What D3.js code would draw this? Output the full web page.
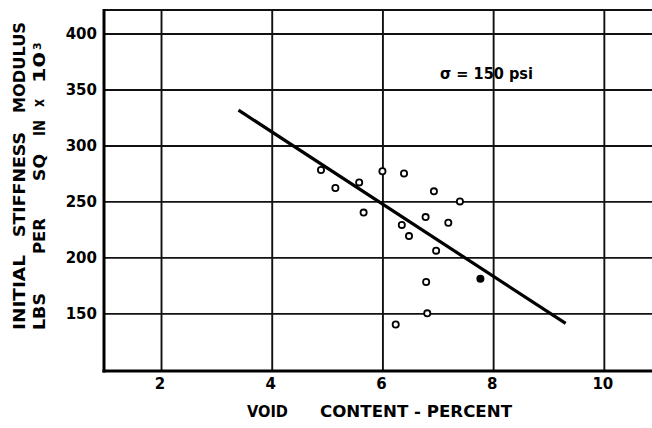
<!DOCTYPE html>
<html>
<head>
<meta charset="utf-8">
<script src="https://cdn.jsdelivr.net/npm/d3@7"></script>
<style>
  body { margin: 0; background: white; }
  text { font-family: "DejaVu Sans", sans-serif; font-weight: bold; fill: black; }
</style>
</head>
<body>
<div id="chart"></div>
<script>
// data
var openX = [4.89, 5.15, 5.58, 5.66, 6.00, 6.39, 6.93, 7.40, 6.78, 6.35, 6.48, 7.19, 6.97, 6.79, 6.81, 6.24];
var openY = [278, 262, 267, 240, 277, 275, 259, 250, 236, 229, 219, 231, 206, 178, 150, 140];
var solidX = [7.77];
var solidY = [181];
var fitX = [3.40, 9.31];
var fitY = [331.5, 141];
var xTicks = [2, 4, 6, 8, 10];
var yTicks = [150, 200, 250, 300, 350, 400];

var width = 652, height = 428;

var svg = d3.select("#chart").append("svg")
    .attr("width", width)
    .attr("height", height);

//
// Scales
//
var x = d3.scaleLinear().domain([0.97, 10.87]).range([104, 652]);
var y = d3.scaleLinear().domain([98.5, 421]).range([371, 10]);

// gridlines
svg.append("g")
    .attr("transform", "translate(0," + y.range()[0] + ")")
    .call(d3.axisBottom(x).tickValues(xTicks).tickSize(-(y.range()[0] - y.range()[1])).tickFormat(""))
    .call(function(g) { g.select(".domain").remove(); })
    .selectAll("line").attr("stroke", "#111").attr("stroke-width", 1.9);

svg.append("g")
    .attr("transform", "translate(" + x.range()[0] + ",0)")
    .call(d3.axisLeft(y).tickValues(yTicks).tickSize(-(x.range()[1] - x.range()[0])).tickFormat(""))
    .call(function(g) { g.select(".domain").remove(); })
    .selectAll("line").attr("stroke", "#111").attr("stroke-width", 1.9);

// frame: top, left, bottom
svg.append("line")
    .attr("x1", x.range()[0]).attr("x2", x.range()[1])
    .attr("y1", y.range()[1]).attr("y2", y.range()[1])
    .attr("stroke", "#111").attr("stroke-width", 2);
svg.append("line")
    .attr("x1", x.range()[0]).attr("x2", x.range()[0])
    .attr("y1", y.range()[1] - 1).attr("y2", y.range()[0] + 1.5)
    .attr("stroke", "#000").attr("stroke-width", 3);
svg.append("line")
    .attr("x1", x.range()[0] - 1.5).attr("x2", x.range()[1])
    .attr("y1", y.range()[0]).attr("y2", y.range()[0])
    .attr("stroke", "#000").attr("stroke-width", 3);

// tick labels
svg.selectAll(".xlab")
    .data(xTicks)
    .enter().append("text")
    .attr("x", function(d) { return x(d) - 1; })
    .attr("y", 389)
    .attr("text-anchor", "middle")
    .style("font-size", "15px")
    .text(function(d) { return d; });

svg.selectAll(".ylab")
    .data(yTicks)
    .enter().append("text")
    .attr("x", 97)
    .attr("y", function(d) { return y(d) + 5.5; })
    .attr("text-anchor", "end")
    .style("font-size", "15px")
    .text(function(d) { return d; });

// fitted line
svg.append("path")
    .datum(fitX.map(function(d, i) { return [d, fitY[i]]; }))
    .attr("fill", "none")
    .attr("stroke", "#000")
    .attr("stroke-width", 3.2)
    .attr("d", d3.line()
          .x(function(d) { return x(d[0]); })
          .y(function(d) { return y(d[1]); }));

// points
svg.selectAll(".pt")
    .data(openX.map(function(d, i) { return [d, openY[i]]; }))
    .enter().append("circle")
    .attr("cx", function(d) { return x(d[0]); })
    .attr("cy", function(d) { return y(d[1]); })
    .attr("r", 3.1)
    .attr("fill", "white")
    .attr("stroke", "#000")
    .attr("stroke-width", 1.8);

svg.selectAll(".spt")
    .data(solidX.map(function(d, i) { return [d, solidY[i]]; }))
    .enter().append("circle")
    .attr("cx", function(d) { return x(d[0]); })
    .attr("cy", function(d) { return y(d[1]); })
    .attr("r", 4)
    .attr("fill", "#000");

// annotation
svg.append("text")
    .attr("x", 440)
    .attr("y", 79)
    .attr("textLength", 93).attr("lengthAdjust", "spacingAndGlyphs")
    .style("font-size", "15px")
    .text("\u03c3 = 150 psi");

// x axis title
svg.append("text")
    .attr("x", 247).attr("y", 417)
    .attr("textLength", 41).attr("lengthAdjust", "spacingAndGlyphs")
    .style("font-size", "15px")
    .text("VOID");
svg.append("text")
    .attr("x", 320).attr("y", 417)
    .attr("textLength", 192).attr("lengthAdjust", "spacingAndGlyphs")
    .style("font-size", "15px")
    .text("CONTENT - PERCENT");

// y axis title, word by word (bottom end, top end, centre x)
var yWords = [
    ["INITIAL", 330, 255, 19], ["STIFFNESS", 237, 132, 19], ["MODULUS", 113, 22, 19],
    ["LBS", 330, 293, 39], ["PER", 254, 218, 39], ["SQ", 181, 154, 39],
    ["IN", 136, 120, 39], ["x", 107, 99, 38], ["10", 83, 52, 39]
];
yWords.forEach(function(w) {
    svg.append("text")
        .attr("transform", "translate(" + (w[3] + 5.5) + "," + w[1] + ") rotate(-90)")
        .attr("textLength", w[1] - w[2]).attr("lengthAdjust", "spacingAndGlyphs")
        .style("font-size", "15px")
        .text(w[0]);
});
svg.append("text")
    .attr("transform", "translate(" + 40.5 + "," + 50 + ") rotate(-90)")
    .style("font-size", "11px")
    .text("3");
</script>
</body>
</html>
